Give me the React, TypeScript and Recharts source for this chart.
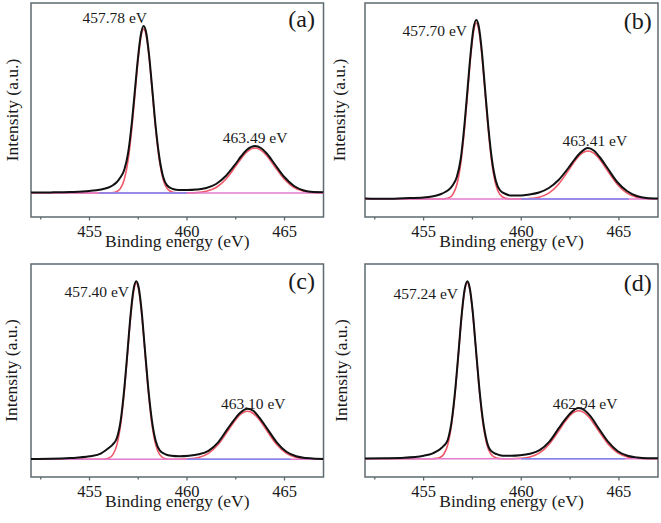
import React from 'react';
import { LineChart, Line, XAxis, YAxis, ReferenceArea, ReferenceDot } from 'recharts';

// ---------- data (binding energy in eV, intensity in arbitrary units) ----------
const energyA = [452, 453, 454, 455, 455.98, 456.18, 456.38, 456.58, 456.78, 456.98, 457.18, 457.33, 457.48, 457.63, 457.78, 457.9, 458.05, 458.2, 458.38, 458.58, 458.78, 458.98, 459.28, 459.58, 460.0, 460.49, 460.99, 461.49, 461.99, 462.49, 462.79, 463.09, 463.49, 463.79, 464.09, 464.49, 464.99, 465.49, 465.99, 466.49, 467];
const countsA = [0.4, 0.6, 1.0, 2.0, 5.5, 7.5, 10.5, 15.5, 23, 40, 72, 103, 134, 158, 167, 161, 139, 108, 69, 36, 16, 7.5, 4, 3, 3, 3.5, 5, 9, 17, 29, 37, 43.5, 47, 45, 39.5, 29, 16, 7, 2.5, 1, 0.8];
const fitA = [0, 0, 0, 0, 0, 0.3, 1.2, 4.4, 13.3, 32.8, 66.3, 98.6, 130.7, 155, 164, 158.1, 136.5, 105.2, 66.3, 32.8, 13.3, 4.4, 0.6, 0, 0.1, 0.4, 1.7, 5.5, 13.8, 26.6, 34.8, 41.4, 45, 42.9, 37.3, 26.6, 13.8, 5.5, 1.7, 0.4, 0.1];

const energyB = [452, 453, 454, 455, 455.9, 456.1, 456.3, 456.5, 456.7, 456.9, 457.1, 457.25, 457.4, 457.55, 457.7, 457.82, 457.97, 458.12, 458.3, 458.5, 458.7, 458.9, 459.2, 459.5, 460.0, 460.41, 460.91, 461.41, 461.91, 462.41, 462.71, 463.01, 463.41, 463.71, 464.01, 464.41, 464.91, 465.41, 465.91, 466.41, 467];
const countsB = [0.5, 0.2, 0.8, 1.5, 5, 7, 9.5, 14, 22, 40, 76, 110, 144, 170, 179, 173, 150, 116, 75, 39, 18, 9, 5, 3.5, 3.5, 4.5, 6.5, 11, 19, 31, 39, 46, 51, 48.5, 42, 31, 17, 8, 3, 1, 0.5];
const fitB = [0, 0, 0, 0, 0, 0.3, 1.3, 4.7, 14.2, 35.2, 71.2, 105.8, 140.3, 166.3, 176, 169.7, 146.5, 112.9, 71.2, 35.2, 14.2, 4.7, 0.6, 0, 0.1, 0.4, 1.8, 5.9, 14.8, 28.4, 37.1, 44.1, 48, 45.8, 39.7, 28.4, 14.8, 5.9, 1.8, 0.4, 0.1];

const energyC = [452, 453, 454, 455, 455.6, 455.8, 456.0, 456.2, 456.4, 456.6, 456.8, 456.95, 457.1, 457.25, 457.4, 457.52, 457.67, 457.82, 458.0, 458.2, 458.4, 458.6, 458.9, 459.2, 459.6, 460.1, 460.6, 461.1, 461.6, 462.1, 462.4, 462.7, 463.1, 463.4, 463.7, 464.1, 464.6, 465.1, 465.6, 466.1, 466.6, 467];
const countsC = [0.3, 0.5, 1.2, 3, 6, 8.5, 11.5, 15, 21, 39, 74, 108, 143, 169, 178, 172, 149, 115, 74, 39, 18, 9, 5, 3.5, 3, 3.5, 5, 8.5, 17, 31, 39, 46, 50.6, 48.5, 42, 31, 17, 7.5, 3, 1.2, 0.5, 0.3];
const fitC = [0, 0, 0, 0, 0, 0.3, 1.3, 4.7, 14.2, 35.2, 71.2, 105.8, 140.3, 166.3, 176, 169.7, 146.5, 112.9, 71.2, 35.2, 14.2, 4.7, 0.6, 0, 0, 0.4, 1.8, 5.9, 14.8, 28.4, 37.1, 44.1, 48, 45.8, 39.7, 28.4, 14.8, 5.9, 1.8, 0.4, 0.1, 0];

const energyD = [452, 453, 454, 455, 455.44, 455.64, 455.84, 456.04, 456.24, 456.44, 456.64, 456.79, 456.94, 457.09, 457.24, 457.36, 457.51, 457.66, 457.84, 458.04, 458.24, 458.44, 458.74, 459.04, 459.5, 459.94, 460.44, 460.94, 461.44, 461.94, 462.24, 462.54, 462.94, 463.24, 463.54, 463.94, 464.44, 464.94, 465.44, 465.94, 466.44, 467];
const countsD = [0.3, 0.5, 1.0, 3, 5, 7, 9.5, 13, 19, 38, 73, 107, 142, 168, 177.4, 171, 148, 114, 73, 38, 17, 8, 4.5, 3, 3, 3.5, 5, 8.5, 17, 31, 39, 46, 50.7, 48.5, 42.5, 31, 17, 7.5, 3, 1.2, 0.5, 0.4];
const fitD = [0, 0, 0, 0, 0, 0.3, 1.3, 4.7, 14.2, 35.2, 71.2, 105.8, 140.3, 166.3, 176, 169.7, 146.5, 112.9, 71.2, 35.2, 14.2, 4.7, 0.6, 0, 0, 0.4, 1.8, 5.9, 14.8, 28.4, 37.1, 44.1, 48, 45.8, 39.7, 28.4, 14.8, 5.9, 1.8, 0.4, 0.1, 0];

const peaksA = [457.78, 463.49];
const peaksB = [457.7, 463.41];
const peaksC = [457.4, 463.1];
const peaksD = [457.24, 462.94];
const peakTextA = ['457.78 eV', '463.49 eV'];
const peakTextB = ['457.70 eV', '463.41 eV'];
const peakTextC = ['457.40 eV', '463.10 eV'];
const peakTextD = ['457.24 eV', '462.94 eV'];

const baselineRange = [452, 467];
const blueRangeA = [455.5, 460];
const blueRangeB = [460, 465.5];
const blueRangeC = [460, 465.3];
const blueRangeD = [460, 465.3];

const xDomain = [452, 467];
const xTicks = [452.5, 455, 457.5, 460, 462.5, 465];
const panelLetters = ['(a)', '(b)', '(c)', '(d)'];
const xTitle = 'Binding energy (eV)';
const yTitle = 'Intensity (a.u.)';

// ---------- styles ----------
const FONT = "'Liberation Serif', 'Times New Roman', serif";
const FRAME = '#5d6a70';
const TEXT = '#1a1a1a';
const DATA = '#111111';
const FIT = '#f05868';
const PINK = '#e27ccf';
const BLUE = '#7f86ee';

const toPts = (xs: number[], ys: number[]) => xs.map((x, i) => ({ x, y: ys[i] }));
const flat = (r: number[]) => [{ x: r[0], y: 0 }, { x: r[1], y: 0 }];

const TickMark = (props: any) => {
  const { x, y, payload } = props;
  const v = payload.value;
  const major = Math.abs(v % 5) < 1e-6;
  return (
    <g>
      <line x1={x} x2={x} y1={y} y2={y + (major ? 3.5 : 2.5)} stroke={FRAME} strokeWidth={1.3} />
      {major && (
        <text x={x} y={y + 20} textAnchor="middle" style={{ fontFamily: FONT, fontSize: 16.5, fill: TEXT }}>
          {v}
        </text>
      )}
    </g>
  );
};

const textShape = (text: string, dx: number, dy: number, anchor: string, size: number) => (p: any) => (
  <text x={p.cx + dx} y={p.cy + dy} textAnchor={anchor} style={{ fontFamily: FONT, fontSize: size, fill: TEXT }}>
    {text}
  </text>
);

const panels = [
  {
    left: 0, top: 0, w: 330, h: 262, margin: { top: 3, right: 6.5, bottom: 0, left: 0 }, yAxisW: 31, xAxisH: 45,
    yDomain: [-24, 190], yLabelOff: 12, xLabelOff: 15,
    energy: energyA, counts: countsA, fit: fitA, peaks: peaksA, peakText: peakTextA, blue: blueRangeA,
    lab: [[3.3, -3.3, 'end'], [0, -3.3, 'middle']], letter: [-8.5, 24.4],
  },
  {
    left: 330, top: 0, w: 331, h: 262, margin: { top: 3, right: 3, bottom: 0, left: 0 }, yAxisW: 35, xAxisH: 45,
    yDomain: [-18, 196], yLabelOff: 9, xLabelOff: 15,
    energy: energyB, counts: countsB, fit: fitB, peaks: peaksB, peakText: peakTextB, blue: blueRangeB,
    lab: [[-9.3, 16, 'end'], [7, -1.6, 'middle']], letter: [-6.3, 26],
  },
  {
    left: 0, top: 262, w: 330, h: 261, margin: { top: 2, right: 6.5, bottom: 0, left: 0 }, yAxisW: 31, xAxisH: 46,
    yDomain: [-17.7, 195.3], yLabelOff: 11, xLabelOff: 16,
    energy: energyC, counts: countsC, fit: fitC, peaks: peaksC, peakText: peakTextC, blue: blueRangeC,
    lab: [[-7.3, 15.7, 'end'], [5.8, -0.2, 'middle']], letter: [-8.5, 25.4],
  },
  {
    left: 330, top: 262, w: 331, h: 261, margin: { top: 2, right: 3, bottom: 0, left: 0 }, yAxisW: 35, xAxisH: 46,
    yDomain: [-18.3, 194.7], yLabelOff: 10.7, xLabelOff: 16,
    energy: energyD, counts: countsD, fit: fitD, peaks: peaksD, peakText: peakTextD, blue: blueRangeD,
    lab: [[-9.3, 17.7, 'end'], [6.4, 0.7, 'middle']], letter: [-6.3, 27],
  },
];

function Panel({ cfg, letter }: { cfg: any; letter: string }) {
  const data = toPts(cfg.energy, cfg.counts);
  const fit = toPts(cfg.energy, cfg.fit);
  const titleStyle = { fontFamily: FONT, fontSize: 17.5, fill: TEXT };
  return (
    <div style={{ position: 'absolute', left: cfg.left, top: cfg.top, fontFamily: FONT }}>
      <LineChart width={cfg.w} height={cfg.h} margin={cfg.margin} style={{ fontFamily: FONT }}>
        <XAxis
          type="number" dataKey="x" domain={xDomain} allowDataOverflow ticks={xTicks} interval={0}
          tick={<TickMark />} tickLine={false} axisLine={false} tickSize={0} tickMargin={0} height={cfg.xAxisH}
          label={{ value: xTitle, position: 'insideBottom', offset: cfg.xLabelOff, fontSize: 17.5, fontFamily: FONT, fill: TEXT, style: titleStyle }}
        />
        <YAxis
          type="number" domain={cfg.yDomain} allowDataOverflow tick={false} tickLine={false} axisLine={false} width={cfg.yAxisW}
          label={{ value: yTitle, angle: -90, position: 'insideLeft', offset: cfg.yLabelOff, fontSize: 17.5, fontFamily: FONT, fill: TEXT, style: { ...titleStyle, textAnchor: 'middle' } }}
        />
        <Line data={fit} dataKey="y" type="monotone" stroke={FIT} strokeWidth={1.6} dot={false} isAnimationActive={false} />
        <Line data={flat(baselineRange)} dataKey="y" type="linear" stroke={PINK} strokeWidth={1.5} dot={false} isAnimationActive={false} />
        <Line data={flat(cfg.blue)} dataKey="y" type="linear" stroke={BLUE} strokeWidth={1.5} dot={false} isAnimationActive={false} />
        <Line data={data} dataKey="y" type="monotone" stroke={DATA} strokeWidth={2} dot={false} isAnimationActive={false} />
        <ReferenceArea x1={xDomain[0]} x2={xDomain[1]} y1={cfg.yDomain[0]} y2={cfg.yDomain[1]} fill="none" stroke={FRAME} strokeWidth={1.5} ifOverflow="visible" />
        {cfg.peaks.map((p: number, i: number) => (
          <ReferenceDot
            key={i} x={p} y={cfg.counts[cfg.energy.indexOf(p)]} r={0} ifOverflow="visible"
            shape={textShape(cfg.peakText[i], cfg.lab[i][0], cfg.lab[i][1], cfg.lab[i][2], 15.5)}
          />
        ))}
        <ReferenceDot
          x={xDomain[1]} y={cfg.yDomain[1]} r={0} ifOverflow="visible"
          shape={textShape(letter, cfg.letter[0], cfg.letter[1], 'end', 24)}
        />
      </LineChart>
    </div>
  );
}

export default function App() {
  return (
    <div style={{ position: 'fixed', left: 0, top: 0, width: 661, height: 523, background: '#ffffff' }}>
      {panels.map((cfg, i) => (
        <Panel key={i} cfg={cfg} letter={panelLetters[i]} />
      ))}
    </div>
  );
}
